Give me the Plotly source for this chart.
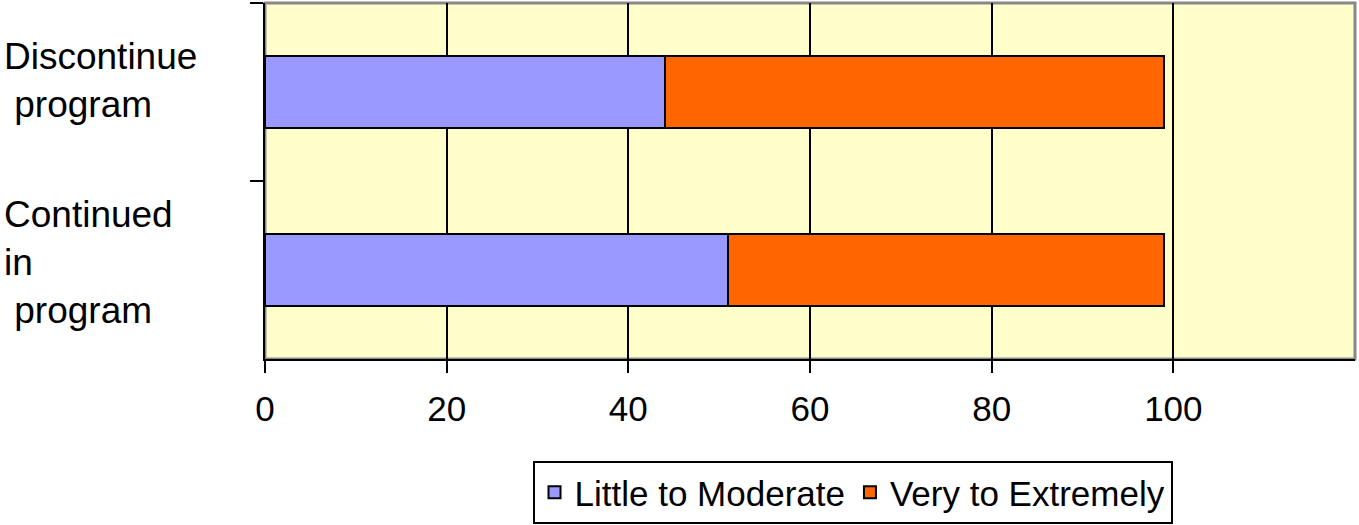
import plotly.graph_objects as go

# Categories (top to bottom) and the stacked shares for each response group
categories = ["Discontinue program", "Continued in program"]
category_labels = ["Discontinue<br>\u00a0program", "Continued<br>in<br>\u00a0program"]
little_to_moderate = [44, 51]
very_to_extremely = [55, 48]
x_ticks = [0, 20, 40, 60, 80, 100]

FONT = "Liberation Sans, Arial, sans-serif"
FS = 35

fig = go.Figure()
fig.add_trace(go.Bar(
    y=categories, x=little_to_moderate, orientation="h",
    name="Little to Moderate",
    marker=dict(color="#9999FF", line=dict(color="black", width=2)),
))
fig.add_trace(go.Bar(
    y=categories, x=very_to_extremely, orientation="h",
    name="Very to Extremely",
    marker=dict(color="#FF6600", line=dict(color="black", width=2)),
))

# Category labels, left aligned at the page edge
for cat, lab, dy in zip(categories, category_labels, [12, 8]):
    fig.add_annotation(
        x=-0.2413, xref="paper", y=cat, yref="y",
        text=lab, showarrow=False, xanchor="left", yanchor="middle",
        align="left", yshift=dy,
        font=dict(family=FONT, size=37, color="black"),
    )

# Grey frame on the top and right of the plotting area
fig.add_shape(type="rect", xref="paper", yref="paper", x0=0, x1=1, y0=0, y1=1,
              line=dict(color="#888888", width=3), layer="below")

fig.update_layout(
    barmode="stack",
    bargap=0.6,
    width=1359, height=525,
    margin=dict(l=265, r=4, t=3, b=166, autoexpand=False),
    paper_bgcolor="white",
    plot_bgcolor="#FFFFCC",
    font=dict(family=FONT, size=FS, color="black"),
    showlegend=True,
    legend=dict(
        orientation="h", x=0.539, xanchor="center",
        yref="container", y=0.122, yanchor="top",
        bordercolor="black", borderwidth=2, bgcolor="white",
        font=dict(family=FONT, size=35, color="black"),
        itemclick=False, traceorder="normal",
    ),
    xaxis=dict(
        range=[0, 120], tickvals=x_ticks, ticktext=[str(v) for v in x_ticks],
        showgrid=True, gridcolor="black", gridwidth=2,
        showline=True, linecolor="black", linewidth=2,
        ticks="outside", ticklen=12, tickwidth=2, tickcolor="black",
        ticklabelstandoff=6,
        zeroline=False, fixedrange=True,
    ),
    yaxis=dict(
        categoryorder="array", categoryarray=categories, autorange="reversed",
        showticklabels=False, showgrid=False,
        showline=True, linecolor="black", linewidth=2,
        ticks="outside", ticklen=13, tickwidth=2, tickcolor="black",
        tickson="boundaries", zeroline=False, fixedrange=True,
    ),
)

fig.write_html("out.html")
